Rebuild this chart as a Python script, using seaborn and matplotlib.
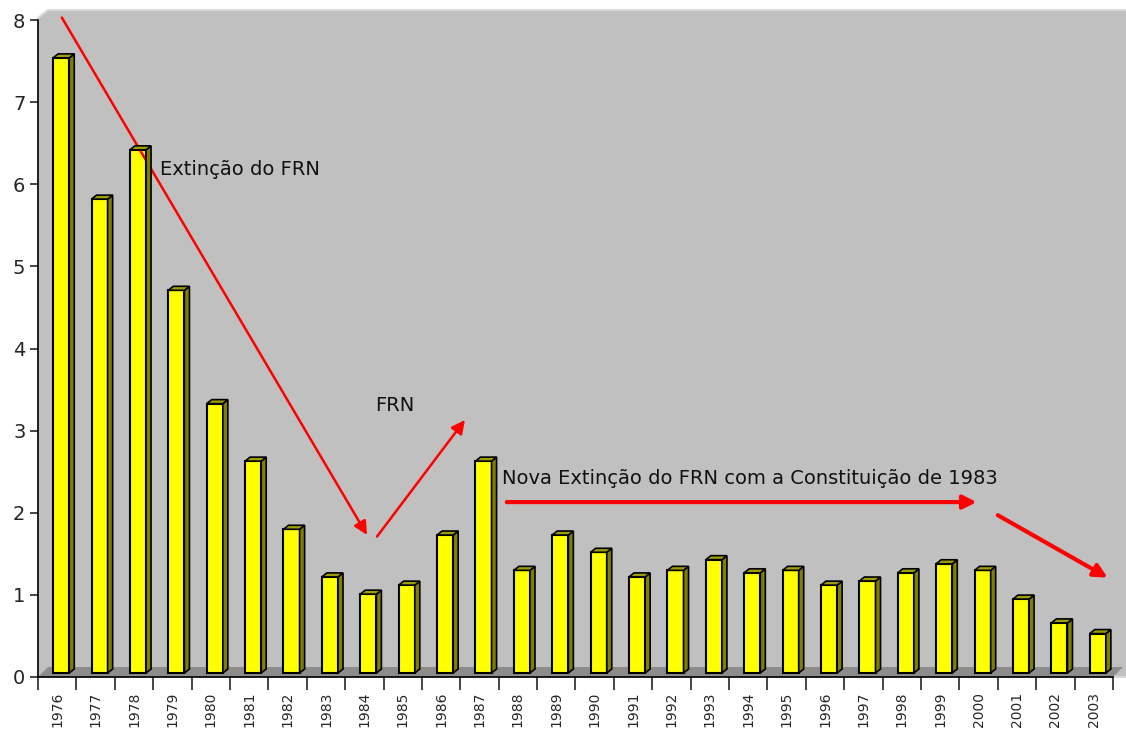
import matplotlib
matplotlib.use("Agg")
import matplotlib.pyplot as plt
import matplotlib.transforms as mtransforms
from matplotlib.patches import Polygon
import seaborn as sns
import numpy as np

years = [str(y) for y in range(1976, 2004)]
values = [7.49, 5.77, 6.37, 4.66, 3.28, 2.58, 1.75, 1.17, 0.96, 1.07,
          1.68, 2.58, 1.25, 1.68, 1.47, 1.17, 1.25, 1.38, 1.22, 1.25,
          1.07, 1.12, 1.22, 1.33, 1.25, 0.90, 0.61, 0.48]

W, H = 1126, 733
sns.set_style("white")
plt.rcParams['font.family'] = ['DejaVu Sans']

fig = plt.figure(figsize=(W / 100, H / 100), dpi=100)
ax = fig.add_axes([38 / W, 56 / H, (1113 - 38) / W, (677 - 20) / H])
ax.patch.set_visible(False)

# 3D wall and floor (in axes fraction, drawn behind)
dx, dy = 10 / (1113 - 38), 10 / (677 - 20)
wall = Polygon([(0, 0), (0, 1 + dy * 0.2), (dx, 1 + dy), (1.2, 1 + dy), (1.2, 0)],
               closed=True, transform=ax.transAxes, facecolor='#C0C0C0',
               edgecolor='#D8D8D8', lw=1.5, clip_on=False, zorder=-5)
ax.add_patch(wall)
floor = Polygon([(0, 0), (dx, dy), (1 + dx, dy), (1, 0)], closed=True,
                transform=ax.transAxes, facecolor='#8C8C8C', edgecolor='none',
                clip_on=False, zorder=-4)
ax.add_patch(floor)

sns.barplot(x=years, y=values, color='#FFFF00', saturation=1, width=0.42,
            edgecolor='black', linewidth=1.5, ax=ax, zorder=3)
ax.set_xlim(-0.5, len(years) - 0.5)
ax.set_ylim(0, 8)

shift = mtransforms.ScaledTranslation(4 / 100, 4 / 100, fig.dpi_scale_trans)
fig.canvas.draw()
sx, sy = 5, 4  # depth in pixels
for p in ax.patches:
    if p in (wall, floor):
        continue
    if not hasattr(p, 'get_height'):
        continue
    p.set_transform(ax.transData + shift)
    bb = p.get_window_extent()
    x0, x1, y0, y1 = bb.x0, bb.x1, bb.y0, bb.y1
    side = Polygon([(x1, y0), (x1, y1), (x1 + sx, y1 + sy), (x1 + sx, y0 + sy)],
                   closed=True, transform=None, facecolor='#808000',
                   edgecolor='black', lw=1.2, zorder=2)
    top = Polygon([(x0, y1), (x0 + sx, y1 + sy), (x1 + sx, y1 + sy), (x1, y1)],
                  closed=True, transform=None, facecolor='#9E9E00',
                  edgecolor='black', lw=1.2, zorder=2)
    fig.add_artist(side)
    fig.add_artist(top)

# axes styling
for s in ['top', 'right']:
    ax.spines[s].set_visible(False)
ax.spines['left'].set_color('black')
ax.spines['bottom'].set_color('black')
ax.spines['left'].set_linewidth(1.2)
ax.spines['bottom'].set_linewidth(1.2)
ax.set_yticks(range(0, 9))
ax.tick_params(axis='y', length=6, width=1.2, labelsize=14, pad=3, left=True)
ax.set_xticks(range(len(years)))
ax.set_xticklabels(years, rotation=90, fontsize=10)
ax.set_xticks(np.arange(-0.5, len(years) + 0.5, 1), minor=True)
ax.tick_params(axis='x', which='major', length=0, pad=10.5, bottom=True)
ax.tick_params(axis='x', which='minor', length=9, width=1.2, bottom=True)
ax.set_xlabel('')
ax.set_ylabel('')

# annotations
arr = dict(arrowstyle='-|>', color='red', lw=1.8, mutation_scale=20, shrinkA=0, shrinkB=0)
ax.annotate('', xy=(8.07, 1.73), xytext=(0.12, 8.03), arrowprops=arr, zorder=6,
            annotation_clip=False)
ax.annotate('', xy=(10.62, 3.13), xytext=(8.33, 1.71), arrowprops=arr, zorder=6)
arr2 = dict(arr, lw=3)
ax.annotate('', xy=(23.95, 2.13), xytext=(11.71, 2.13), arrowprops=arr2, zorder=6)
ax.annotate('', xy=(27.36, 1.21), xytext=(24.5, 1.97), arrowprops=arr2, zorder=6)

ax.text(2.68, 6.18, 'Extinção do FRN', fontsize=14, va='center', ha='left', color='#111111', zorder=7)
ax.text(8.28, 3.31, 'FRN', fontsize=14, va='center', ha='left', color='#111111', zorder=7)
ax.text(11.58, 2.42, 'Nova Extinção do FRN com a Constituição de 1983', fontsize=14,
        va='center', ha='left', color='#111111', zorder=7)

fig.savefig('out.png', dpi=100)
